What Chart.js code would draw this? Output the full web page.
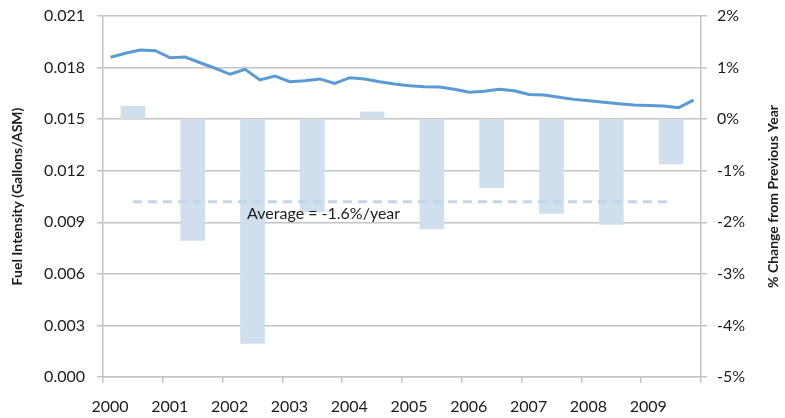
<!DOCTYPE html>
<html>
<head>
<meta charset="utf-8">
<script src="https://cdn.jsdelivr.net/npm/chart.js@4/dist/chart.umd.min.js"></script>
<style>
  html, body { margin: 0; padding: 0; background: #fff; }
</style>
</head>
<body>
<canvas id="fuelChart" width="785" height="418"></canvas>
<script>
// years on the axis, bars sit in the middle of each year
const years = [2000, 2001, 2002, 2003, 2004, 2005, 2006, 2007, 2008, 2009];
// quarterly fuel intensity (gallons / ASM), 4 per year
const fuelIntensity = [
  0.01860, 0.01883, 0.01902, 0.01898,
  0.01857, 0.01861, 0.01828, 0.01796,
  0.01761, 0.01790, 0.01728, 0.01751,
  0.01718, 0.01724, 0.01734, 0.01708,
  0.01741, 0.01734, 0.01718, 0.01704,
  0.01694, 0.01689, 0.01687, 0.01674,
  0.01656, 0.01662, 0.01674, 0.01665,
  0.01644, 0.01640, 0.01627, 0.01615,
  0.01607, 0.01598, 0.01590, 0.01582,
  0.01580, 0.01576, 0.01567, 0.01611
];
// % change from previous year
const pctChange = [0.25, -2.35, -4.35, -1.8, 0.14, -2.13, -1.33, -1.83, -2.04, -0.87];
const avgChange = -1.6;
const leftTicks = { min: 0, max: 0.021, step: 0.003 };
const rightTicks = { min: -5, max: 2, step: 1 };

const lineData = fuelIntensity.map((v, i) => ({
  x: years[Math.floor(i / 4)] + ((i % 4) + 0.5) / 4,
  y: v
}));
const barData = pctChange.map((v, i) => ({ x: years[i] + 0.5, y: v }));
const avgData = [
  { x: years[0] + 0.5, y: avgChange },
  { x: years[years.length - 1] + 0.5, y: avgChange }
];

Chart.defaults.font.family = "Lato, 'Open Sans', sans-serif";
Chart.defaults.color = "#1c1c1c";

const gridColor = "#c4c4c4";

const labelsPlugin = {
  id: "extraLabels",
  afterDatasetsDraw(chart) {
    const ctx = chart.ctx;
    const xs = chart.scales.x;
    const y1 = chart.scales.y1;
    ctx.save();
    // average label
    ctx.font = "16px Lato, sans-serif";
    ctx.fillStyle = "#1c1c1c";
    ctx.textAlign = "left";
    ctx.textBaseline = "middle";
    ctx.fillText("Average = " + avgChange.toFixed(1) + "%/year",
      xs.getPixelForValue(2002.41), y1.getPixelForValue(avgChange) + 12);
    // right axis title, reads bottom to top
    const area = chart.chartArea;
    ctx.translate(773, (area.top + area.bottom) / 2);
    ctx.rotate(-Math.PI / 2);
    ctx.font = "bold 14px Lato, sans-serif";
    ctx.textAlign = "center";
    ctx.fillText("% Change from Previous Year", 0, 0);
    ctx.restore();
  }
};

new Chart(document.getElementById("fuelChart"), {
  data: {
    datasets: [
      {
        type: "line",
        data: lineData,
        yAxisID: "y",
        borderColor: "#5b9bd3",
        borderWidth: 3,
        pointRadius: 0,
        tension: 0,
        order: 0
      },
      {
        type: "line",
        data: avgData,
        yAxisID: "y1",
        borderColor: "#c2d6ea",
        borderWidth: 3,
        borderDash: [9, 6],
        pointRadius: 0,
        order: 1
      },
      {
        type: "bar",
        data: barData,
        yAxisID: "y1",
        backgroundColor: "#cfdfee",
        barThickness: 24,
        order: 2
      }
    ]
  },
  options: {
    responsive: false,
    animation: false,
    layout: { padding: { top: 16, left: 0, right: 0, bottom: 0 } },
    plugins: {
      legend: { display: false },
      tooltip: { enabled: false }
    },
    scales: {
      x: {
        type: "linear",
        offset: false,
        min: years[0],
        max: years[years.length - 1] + 1,
        afterFit(scale) { scale.height = 41; },
        grid: { offset: false, drawOnChartArea: false, color: gridColor, tickLength: 6, lineWidth: 1.5 },
        border: { color: gridColor, width: 1.5 },
        ticks: {
          stepSize: 1,
          autoSkip: false,
          maxRotation: 0,
          labelOffset: 7,
          padding: 14,
          font: { size: 16 },
          callback: v => (years.includes(v) ? String(v) : "")
        }
      },
      y: {
        position: "left",
        min: leftTicks.min,
        max: leftTicks.max,
        afterFit(scale) {
          scale.width = 103;
          scale.paddingTop = 0;
          scale.paddingBottom = 0;
        },
        grid: { color: gridColor, tickLength: 6, lineWidth: 1.5 },
        border: { color: gridColor, width: 1.5 },
        ticks: {
          stepSize: leftTicks.step,
          padding: 12,
          font: { size: 16 },
          callback: v => Number(v).toFixed(3)
        },
        title: {
          display: true,
          text: "Fuel Intensity (Gallons/ASM)",
          font: { size: 14, weight: "bold" },
          padding: { top: 9, bottom: 0 }
        }
      },
      y1: {
        position: "right",
        min: rightTicks.min,
        max: rightTicks.max,
        afterFit(scale) {
          scale.width = 84;
          scale.paddingTop = 0;
          scale.paddingBottom = 0;
        },
        grid: { drawOnChartArea: false, color: gridColor, tickLength: 6, lineWidth: 1.5 },
        border: { color: gridColor, width: 1.5 },
        ticks: {
          stepSize: rightTicks.step,
          padding: 10,
          font: { size: 16 },
          callback: v => v + "%"
        }
      }
    }
  },
  plugins: [labelsPlugin]
});
</script>
</body>
</html>
